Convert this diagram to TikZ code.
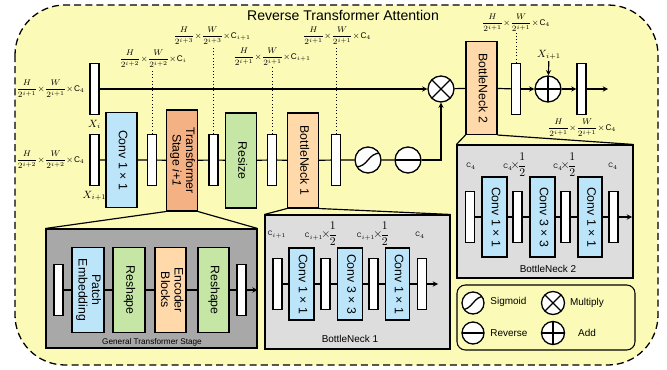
\documentclass[tikz,border=0pt]{standalone}
\usepackage{amsmath}
\usepackage{fontspec}
\setmainfont{Liberation Sans}
\usetikzlibrary{arrows.meta, positioning, calc}
\definecolor{yellowbg}{RGB}{251,251,183}
\definecolor{convblue}{RGB}{189,229,249}
\definecolor{resizegreen}{RGB}{198,230,166}
\definecolor{tsorange}{RGB}{244,177,131}
\definecolor{bnpeach}{RGB}{255,217,170}
\definecolor{gtsgray}{RGB}{168,168,168}
\definecolor{bngray}{RGB}{221,221,221}

\newcommand{\vlabel}[1]{\rotatebox{-90}{\begin{tabular}{@{}c@{}}#1\end{tabular}}}
\newcommand{\dimlbl}[2]{$\dfrac{H}{2^{#1}}\mkern-4mu\times\mkern-4mu\dfrac{W}{2^{#1}}\mkern-4mu\times\mkern-3mu\mathrm{C}_{#2}$}
\newcommand{\halflbl}[1]{{\fontsize{5.5}{6}\selectfont$\mathrm{C}_{#1}$}$\!\times\!\dfrac{1}{2}$}

\begin{document}
\begin{tikzpicture}[x=0.03cm, y=-0.03cm]
    % Define styles
    \tikzstyle{bar} = [rectangle, draw, fill=white, line width=0.9pt,
                       minimum width=0.27cm, minimum height=1.53cm, inner sep=0pt]
    \tikzstyle{block} = [rectangle, draw, line width=0.9pt,
                         minimum width=0.93cm, minimum height=2.85cm, inner sep=0pt,
                         font=\fontsize{10.5}{11.5}\selectfont]
    \tikzstyle{inblock} = [block, minimum width=0.75cm]
    \tikzstyle{panel} = [rectangle, draw, line width=0.9pt, inner sep=0pt]
    \tikzstyle{op} = [circle, draw, fill=white, line width=1.1pt, minimum size=0.78cm, inner sep=0pt]
    \tikzstyle{sigop} = [op, path picture={\draw[line width=1.1pt, shift={(path picture bounding box.center)}]
                         (-13,7) .. controls (1,7) and (-1,-7) .. (13,-7);}]
    \tikzstyle{revop} = [op, path picture={\draw[line width=1.1pt] (path picture bounding box.west) -- (path picture bounding box.east);}]
    \tikzstyle{mulop} = [op, path picture={\draw[line width=1.1pt] (path picture bounding box.north west) -- (path picture bounding box.south east)
                         (path picture bounding box.north east) -- (path picture bounding box.south west);}]
    \tikzstyle{addop} = [op, path picture={\draw[line width=1.1pt] (path picture bounding box.west) -- (path picture bounding box.east)
                         (path picture bounding box.north) -- (path picture bounding box.south);}]
    \tikzstyle{line} = [line width=1pt]
    \tikzstyle{arrow} = [line width=1pt,->,>=stealth]
    \tikzstyle{dim} = [font=\fontsize{7}{8}\selectfont, inner sep=1pt]
    \tikzstyle{xlbl} = [font=\fontsize{9}{10}\selectfont, inner sep=1pt]
    \tikzstyle{chan} = [font=\fontsize{10}{11}\selectfont, inner sep=0pt]
    \tikzstyle{small} = [font=\fontsize{8.5}{10}\selectfont, inner sep=1pt]

    \useasboundingbox (0,0) rectangle (667,370);
    \draw[line width=1.1pt, dash pattern=on 6pt off 3.5pt, fill=yellowbg, rounded corners=1.5cm]
        (15,5) rectangle (658,365);
    \node[font=\fontsize{12}{14}\selectfont] (title) at (343,15) {Reverse Transformer Attention};

    % Create blocks
    \node[bar] (xi) at (94.5,89) {};
    \node[xlbl, below=3pt of xi] (xilbl) {$X_i$};
    \node[dim, left=3pt of xi] (xidim) {\dimlbl{i+1}{4}};

    \node[bar] (xn) at (94.5,160) {};
    \node[xlbl, below=3pt of xn] (xnlbl) {$X_{i+1}$};
    \node[dim, left=3pt of xn] (xndim) {\dimlbl{i+2}{4}};

    \node[block, fill=convblue] (conv) at (121.5,160) {\vlabel{Conv 1 × 1}};
    \node[bar] (b1) at (152,160) {};
    \node[block, fill=tsorange, minimum height=3.03cm] (ts) at (182,160.5) {\vlabel{Transformer\\Stage \textit{i+1}}};
    \node[bar] (b2) at (213.5,160) {};
    \node[block, fill=resizegreen] (resize) at (241,160.5) {\vlabel{Resize}};
    \node[bar] (b3) at (272,160) {};
    \node[block, fill=bnpeach] (bn1) at (303,160.5) {\vlabel{BottleNeck 1}};
    \node[bar] (b4) at (336,160) {};
    \node[sigop] (sig) at (368,160) {};
    \node[revop] (rev) at (408,160) {};

    \node[mulop] (mul) at (441,89) {};
    \node[block, fill=bnpeach, minimum height=2.79cm] (bn2) at (481.5,88) {\vlabel{BottleNeck 2}};
    \node[bar] (b5) at (516,89) {};
    \node[addop] (add) at (548,89) {};
    \node[bar] (b6) at (581.5,89) {};
    \coordinate (out) at (608,89);
    \node[xlbl] (xadd) at (549,55) {$X_{i+1}$};

    \node[dim] (d1) at (153,59) {\dimlbl{i+2}{i}};
    \node[dim] (d2) at (212,36) {\dimlbl{i+3}{i+1}};
    \node[dim] (d3) at (272,57) {\dimlbl{i+1}{i+1}};
    \node[dim] (d4) at (337,36) {\dimlbl{i+1}{4}};
    \node[dim] (d5) at (516,23) {\dimlbl{i+1}{4}};
    \node[dim] (d6) at (582,128) {\dimlbl{i+1}{4}};

    % Draw arrows
    \draw[arrow] (xi) -- (mul);
    \draw[line] (xn) -- (conv) -- (b1) -- (ts) -- (b2) -- (resize) -- (b3) -- (bn1) -- (b4) -- (sig) -- (rev);
    \draw[arrow] (rev) -| (mul);
    \draw[line] (mul) -- (bn2) -- (b5);
    \draw[arrow] (b5) -- (add);
    \draw[arrow] (add) -- (b6);
    \draw[arrow] (b6) -- (out);
    \draw[arrow] (xadd) -- (add);

    \foreach \b/\d in {b1/d1, b2/d2, b3/d3, b4/d4, b5/d5}
        \draw[dotted, line width=0.8pt] (\b.north) -- (\b.north |- \d.south);

    % General transformer stage
    \node[panel, fill=gtsgray, minimum width=6.33cm, minimum height=3.57cm] (gts) at (151.5,288.5) {};
    \draw[line] (ts.south west) -- (gts.north west);
    \draw[line] (ts.south east) -- (gts.north east);
    \node[bar] (gb1) at (58.5,290) {};
    \node[block, fill=convblue, minimum width=0.96cm, minimum height=2.55cm] (patch) at (88,290) {\vlabel{Patch\\Embedding}};
    \node[block, fill=resizegreen, minimum width=0.96cm, minimum height=2.55cm] (rs1) at (129,290) {\vlabel{Reshape}};
    \node[block, fill=bnpeach, minimum width=0.93cm, minimum height=2.55cm] (enc) at (170.5,290) {\vlabel{Encoder\\Blocks}};
    \node[block, fill=resizegreen, minimum width=0.93cm, minimum height=2.55cm] (rs2) at (213.5,290) {\vlabel{Reshape}};
    \node[bar] (gb2) at (241.5,290) {};
    \draw[line] (gb1) -- (patch) -- (rs1) -- (enc) -- (rs2) -- (gb2);
    \draw[arrow] (gb2) -- (gb2 -| gts.east);
    \node[font=\fontsize{7}{8}\selectfont] (gtslbl) at (152,342) {General Transformer Stage};

    % BottleNeck 1
    \node[panel, fill=bngray, minimum width=5.55cm, minimum height=4.02cm] (bn1p) at (357.5,282) {};
    \draw[line] (bn1.south west) -- (bn1p.north west);
    \draw[line] (bn1.south east) -- (bn1p.north east);
    \node[bar] (p1) at (277.5,284) {};
    \node[inblock, fill=convblue, minimum height=2.16cm] (p1c) at (301.5,284) {\vlabel{Conv 1 × 1}};
    \node[bar] (p2) at (325.5,284) {};
    \node[inblock, fill=convblue, minimum height=2.16cm] (p2c) at (350,284) {\vlabel{Conv 3 × 3}};
    \node[bar] (p3) at (373.5,284) {};
    \node[inblock, fill=convblue, minimum height=2.16cm, minimum width=0.72cm] (p3c) at (397.5,284) {\vlabel{Conv 1 × 1}};
    \node[bar] (p4) at (422,284) {};
    \coordinate (p4out) at (438,284);
    \draw[line] (p1) -- (p1c) -- (p2) -- (p2c) -- (p3) -- (p3c) -- (p4);
    \draw[arrow] (p4) -- (p4out);
    \node[chan] (p1l) at (277,235) {\fontsize{5.5}{6}\selectfont$\mathrm{C}_{i+1}$};
    \node[chan] (p2l) at (321,234) {\halflbl{i+1}};
    \node[chan] (p3l) at (373,234) {\halflbl{i+1}};
    \node[chan] (p4l) at (420,235) {\fontsize{5.5}{6}\selectfont$\mathrm{C}_{4}$};
    \node[small] (bn1lbl) at (350,339) {BottleNeck 1};

    % BottleNeck 2
    \node[panel, fill=bngray, minimum width=5.28cm, minimum height=3.99cm] (bn2p) at (545,211.5) {};
    \draw[line] (bn2.south west) -- (bn2p.north west);
    \draw[line] (bn2.south east) -- (bn2p.north east);
    \node[bar] (q1) at (470,217) {};
    \node[inblock, fill=convblue, minimum height=2.4cm] (q1c) at (494.5,217) {\vlabel{Conv 1 × 1}};
    \node[bar] (q2) at (517.5,217) {};
    \node[inblock, fill=convblue, minimum height=2.4cm] (q2c) at (542.5,217) {\vlabel{Conv 3 × 3}};
    \node[bar] (q3) at (565.5,217) {};
    \node[inblock, fill=convblue, minimum height=2.4cm, minimum width=0.72cm] (q3c) at (590,217) {\vlabel{Conv 1 × 1}};
    \node[bar] (q4) at (613.5,217) {};
    \coordinate (q4out) at (632,217);
    \draw[line] (q1) -- (q1c) -- (q2) -- (q2c) -- (q3) -- (q3c) -- (q4);
    \draw[arrow] (q4) -- (q4out);
    \node[chan] (q1l) at (471,166) {\fontsize{5.5}{6}\selectfont$\mathrm{C}_{4}$};
    \node[chan] (q2l) at (515,165) {\halflbl{4}};
    \node[chan] (q3l) at (565,165) {\halflbl{4}};
    \node[chan] (q4l) at (613,166) {\fontsize{5.5}{6}\selectfont$\mathrm{C}_{4}$};
    \node[small] (bn2lbl) at (548,269) {BottleNeck 2};

    % Legend
    \node[panel, fill=yellowbg, rounded corners=0.25cm, minimum width=5.34cm, minimum height=1.95cm] (legend) at (546,317.5) {};
    \node[sigop, minimum size=0.66cm] (lsig) at (473,303) {};
    \node[small, anchor=west] (lsigt) at (489,302) {Sigmoid};
    \node[mulop, minimum size=0.69cm] (lmul) at (553,303) {};
    \node[small] (lmult) at (587,303) {Multiply};
    \node[revop, minimum size=0.66cm] (lrev) at (473,333) {};
    \node[small, anchor=west] (lrevt) at (489,333) {Reverse};
    \node[addop, minimum size=0.69cm] (ladd) at (553,333) {};
    \node[small] (laddt) at (587,333) {Add};
\end{tikzpicture}
\end{document}
